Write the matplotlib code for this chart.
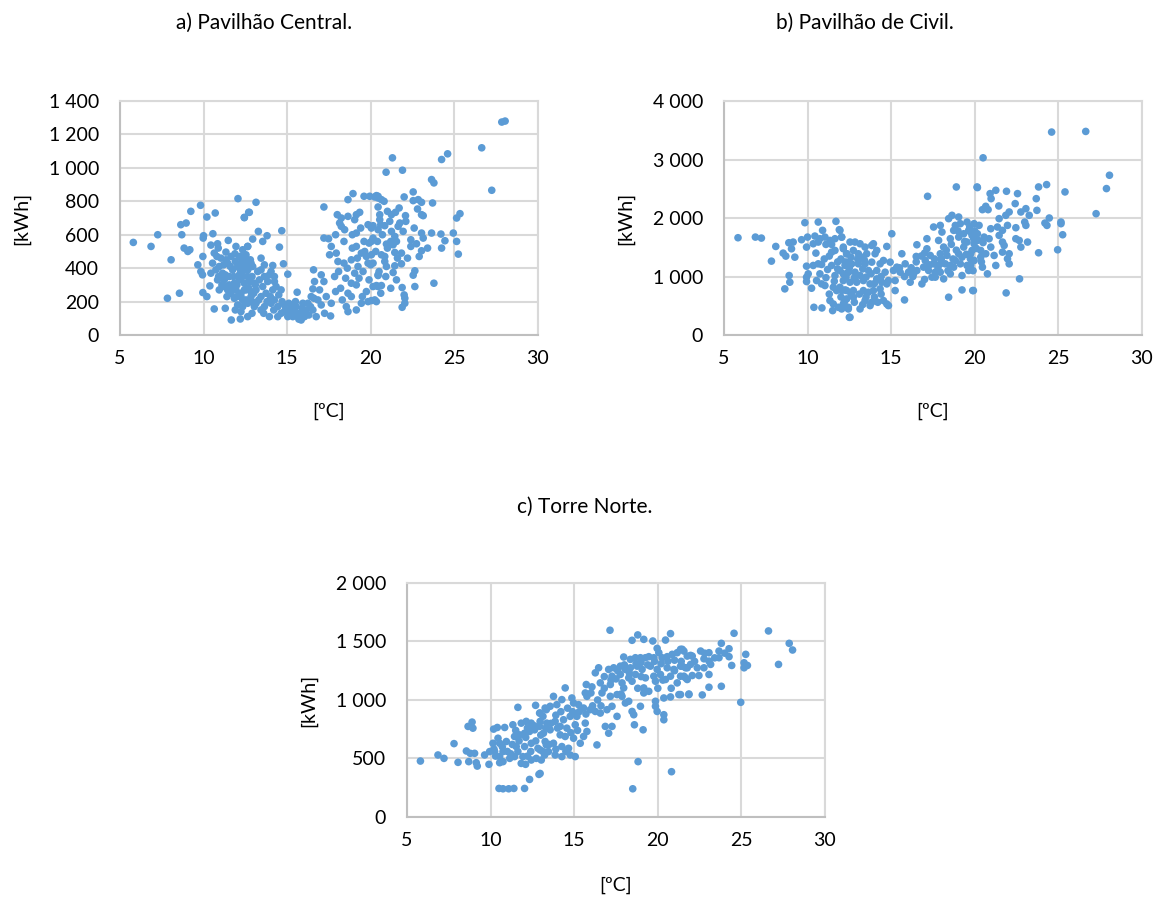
import numpy as np
import matplotlib
matplotlib.use("Agg")
import matplotlib.pyplot as plt
from matplotlib.ticker import FuncFormatter, MultipleLocator

# daily mean temperature [ºC] vs daily consumption [kWh]
central = [
    (5.8, 554), (6.86, 530), (7.26, 600), (7.84, 220), (8.56, 250), (8.06, 450), (8.7, 600), (8.64, 660),
    (8.96, 670), (9.24, 740), (9.82, 776), (8.84, 520), (9.18, 510), (9.06, 500), (10.2, 706), (10.7, 730),
    (12.06, 816), (12.44, 704), (12.7, 734), (10.0, 594), (9.98, 580), (10.56, 606), (10.44, 538), (10.84, 546),
    (10.88, 520), (11.48, 566), (9.96, 470), (9.66, 420), (9.84, 380), (9.94, 360), (10.38, 294), (9.96, 254),
    (10.2, 230), (10.64, 156), (11.66, 90), (12.24, 140), (12.2, 96),
    (10.64, 490), (10.8, 470), (11.04, 460), (11.34, 496), (11.64, 470), (11.88, 486), (12.14, 470), (12.44, 450),
    (12.64, 530), (10.54, 430), (10.74, 390), (10.94, 410), (11.44, 430), (11.74, 390), (12.04, 410), (12.34, 380),
    (12.64, 390), (10.84, 330), (11.24, 330), (11.54, 350), (11.84, 310), (12.14, 330), (12.44, 310), (12.74, 320),
    (10.94, 270), (11.44, 270), (11.64, 250), (11.94, 270), (12.24, 250), (12.54, 270), (11.84, 220), (12.34, 210),
    (12.64, 190), (12.04, 180), (11.24, 290), (11.54, 300), (10.44, 370), (11.14, 370), (12.24, 430), (12.84, 430),
    (11.34, 450), (11.94, 530), (12.34, 510), (12.64, 350), (12.14, 360),
    (11.2, 420), (11.6, 410), (11.9, 440), (12.2, 390), (12.5, 410), (10.9, 350), (11.3, 360), (11.8, 350),
    (12.9, 350), (13.1, 300), (11.1, 300), (11.7, 280), (12.0, 300), (12.7, 280), (13.0, 250), (11.4, 230),
    (12.0, 230), (12.9, 200), (13.3, 210), (13.8, 200), (14.0, 230), (14.5, 240), (14.2, 150), (14.7, 200),
    (15.0, 140), (15.3, 180), (15.6, 130), (16.0, 140), (16.4, 170), (13.6, 130), (12.9, 130), (11.9, 150),
    (11.3, 160),
    (13.14, 794), (12.74, 734), (12.44, 702), (13.28, 620), (13.8, 594), (13.54, 560), (14.68, 624), (14.54, 526),
    (12.94, 574), (12.64, 530), (12.54, 480), (12.8, 450), (13.44, 460), (13.64, 420), (14.14, 416), (14.04, 380),
    (14.78, 426), (15.04, 364), (14.24, 320), (13.84, 320), (14.14, 270), (13.44, 230), (12.84, 230), (13.14, 270),
    (15.6, 256), (15.84, 90), (14.24, 210), (14.44, 170), (14.84, 180), (15.24, 160), (15.44, 140), (15.04, 110),
    (14.64, 130), (13.94, 110), (13.44, 150), (13.04, 170), (12.64, 110), (12.34, 170),
    (12.24, 470), (12.44, 430), (12.64, 390), (12.94, 410), (13.24, 380), (12.34, 350), (12.74, 330), (13.04, 310),
    (13.34, 330), (12.44, 270), (12.84, 260), (12.54, 210), (13.14, 190), (12.24, 230), (13.54, 290), (13.64, 350),
    (13.44, 390), (13.94, 360), (14.24, 350), (14.34, 290), (14.64, 270), (13.74, 250), (14.04, 190), (13.64, 170),
    (14.44, 110), (14.84, 140), (15.34, 110), (15.54, 170), (15.94, 190), (16.14, 150), (16.04, 110), (15.74, 130),
    (15.2, 130), (15.5, 200), (15.9, 160), (16.3, 120), (16.6, 220), (14.9, 150), (15.1, 190), (15.7, 95),
    (16.58, 390), (17.2, 766), (17.2, 580), (17.48, 576), (17.64, 530), (17.54, 480), (17.94, 490), (18.04, 440),
    (17.04, 360), (16.64, 320), (16.54, 276), (16.94, 270), (17.2, 320), (16.44, 230), (16.84, 210), (17.04, 180),
    (17.34, 230), (17.64, 190), (17.24, 130), (17.6, 114), (18.64, 810), (18.94, 846), (19.6, 830), (19.94, 830),
    (20.34, 834), (20.44, 820), (18.14, 670), (18.24, 650), (18.44, 630), (18.24, 700), (18.64, 710), (19.14, 720),
    (19.34, 734), (19.04, 690), (19.14, 610), (19.84, 660), (20.04, 640), (20.14, 580), (19.14, 530), (19.44, 490),
    (19.64, 500), (19.74, 470), (19.84, 430), (19.54, 380), (19.24, 410), (18.84, 450), (19.04, 370), (18.6, 400),
    (18.4, 430), (18.08, 380), (17.84, 350), (18.84, 310), (19.14, 300), (19.74, 260), (20.14, 290), (20.44, 360),
    (20.44, 290), (18.64, 250), (18.84, 230), (18.54, 170), (18.64, 140), (19.14, 150), (19.44, 190), (19.84, 200),
    (20.24, 210), (16.54, 150), (16.74, 110), (16.24, 190),
    (18.4, 560), (18.9, 600), (19.4, 640), (19.9, 550), (20.3, 500), (20.7, 600), (21.0, 520), (19.6, 560),
    (18.9, 520), (19.2, 460), (20.0, 420), (20.5, 380), (18.5, 340), (19.3, 340), (19.9, 330), (20.9, 350),
    (18.2, 280), (19.5, 230), (20.6, 250), (21.2, 280), (17.9, 260), (18.3, 210), (21.6, 460), (22.2, 460),
    (22.9, 470), (23.4, 520), (22.1, 680), (22.6, 640), (21.0, 740), (21.7, 760), (21.2, 560), (20.6, 660),
    (17.9, 600), (18.0, 720),
    (27.84, 1274), (28.04, 1280), (26.64, 1120), (24.6, 1084), (24.24, 1050), (21.3, 1060), (20.92, 974), (21.9, 986),
    (23.64, 930), (23.78, 910), (27.24, 866), (22.54, 856), (22.0, 826), (20.24, 826), (20.44, 830), (20.64, 810),
    (20.8, 800), (22.54, 804), (22.84, 810), (23.04, 794), (23.7, 790), (20.44, 766), (22.8, 754), (23.04, 720),
    (23.14, 714), (22.08, 714), (21.48, 734), (21.24, 720), (20.54, 720), (20.54, 690), (25.34, 726), (25.14, 700),
    (20.14, 654), (20.84, 654), (21.14, 680), (20.44, 630), (21.74, 670), (21.64, 650), (21.24, 620), (21.44, 590),
    (21.94, 620), (21.54, 560), (21.34, 540), (23.04, 610), (23.14, 580), (23.64, 610), (24.2, 604), (24.94, 610),
    (22.4, 570), (22.74, 546), (22.4, 530), (23.04, 504), (24.44, 564), (25.14, 560), (24.24, 520), (25.24, 484),
    (20.04, 560), (20.4, 560), (20.94, 544), (20.04, 480), (20.64, 480), (20.84, 470), (21.44, 494), (21.84, 490),
    (20.14, 430), (20.84, 440), (20.94, 410), (21.44, 414), (21.84, 426), (21.34, 374), (22.64, 384), (22.54, 358),
    (21.54, 330), (20.44, 356), (20.34, 296), (20.64, 296), (22.64, 290), (23.78, 310), (21.88, 284), (22.0, 240),
    (22.04, 220), (22.04, 190), (21.88, 166), (20.04, 206), (20.34, 200),
]

civil = [
    (5.84, 1663), (6.88, 1674), (7.24, 1657), (8.1, 1514), (7.84, 1263), (8.54, 1400), (8.7, 1349), (8.88, 1577),
    (9.14, 1589), (9.04, 1474), (9.24, 1331), (8.9, 1017), (8.94, 903), (8.64, 789), (9.84, 1920), (10.64, 1931),
    (11.7, 1943), (11.9, 1800), (10.9, 1789), (9.64, 1629), (10.0, 1674), (10.44, 1691), (10.74, 1646), (11.04, 1674),
    (11.34, 1617), (11.64, 1646), (9.94, 1503), (10.34, 1560), (10.64, 1589), (11.1, 1549), (11.44, 1549), (12.04, 1674),
    (12.14, 1503), (11.44, 1417), (11.64, 1446), (12.34, 1389), (9.94, 1177), (10.34, 1189), (10.64, 1217), (10.84, 1206),
    (11.44, 1189), (12.24, 1189), (12.34, 1246), (9.94, 989), (10.04, 1046), (10.74, 1046), (11.64, 1017), (12.14, 1046),
    (12.44, 1074), (9.94, 914), (10.54, 931), (10.84, 874), (11.04, 846), (10.24, 800), (11.54, 817), (11.74, 760),
    (11.94, 817), (12.24, 771), (11.34, 589), (11.54, 531), (11.84, 474), (12.14, 531), (12.44, 446), (10.38, 474),
    (10.86, 463), (11.5, 417), (12.5, 303),
    (11.94, 1789), (12.04, 1674), (12.54, 1589), (12.84, 1589), (13.14, 1560), (13.44, 1503), (13.84, 1531), (13.94, 1560),
    (12.14, 1474), (12.34, 1389), (12.74, 1446), (13.04, 1389), (13.24, 1331), (13.54, 1389), (14.04, 1389), (14.14, 1446),
    (14.74, 1514), (12.24, 1246), (12.64, 1217), (13.04, 1217), (13.44, 1217), (13.84, 1246), (14.34, 1217), (14.54, 1274),
    (14.94, 1246), (11.94, 1103), (12.44, 1074), (12.84, 1074), (13.14, 1017), (13.64, 1103), (14.14, 1103), (14.64, 1074),
    (15.14, 1103), (15.34, 1160), (15.64, 1389), (12.14, 931), (12.54, 903), (12.94, 903), (13.34, 931), (13.74, 874),
    (14.14, 960), (14.44, 903), (14.84, 931), (12.04, 760), (12.34, 760), (12.74, 760), (13.34, 760), (13.64, 731),
    (13.94, 760), (14.34, 789), (14.74, 874), (12.34, 617), (12.74, 646), (13.44, 589), (13.84, 560), (14.54, 589),
    (14.74, 531), (14.84, 503), (12.04, 446), (12.44, 474), (13.14, 446), (13.74, 503), (12.54, 303), (15.04, 1731),
    (15.24, 931), (15.24, 760), (15.8, 600), (15.54, 1074), (15.84, 1217), (16.04, 1074), (16.14, 903), (16.34, 1046),
    (16.54, 1103), (16.84, 874), (16.54, 1543), (16.5, 1343), (17.18, 2371), (17.14, 1646), (17.14, 1474), (17.34, 1360),
    (17.04, 1274), (16.94, 1160), (17.24, 1103), (17.54, 1217), (17.64, 1074), (17.44, 989), (17.54, 1846), (17.94, 1874),
    (18.04, 1760), (17.84, 1617), (18.14, 1503), (17.94, 1389), (18.34, 1360), (17.94, 1217), (18.24, 1217), (18.54, 1189),
    (17.94, 1074), (17.64, 989), (18.14, 960), (18.44, 1989), (18.64, 2046), (19.04, 2017), (18.84, 1874), (19.14, 1903),
    (18.74, 1789), (19.04, 1674), (18.54, 1646), (19.54, 1931), (19.64, 1789), (19.34, 1731), (19.84, 1703), (19.54, 1589),
    (19.94, 1646), (19.34, 1503), (19.84, 1446), (19.04, 1389), (19.24, 1331), (19.74, 1303), (18.84, 1274), (19.14, 1217),
    (19.54, 1189), (19.94, 1274), (18.74, 1160), (19.64, 1103), (18.54, 1046), (19.24, 1017), (18.9, 2531), (20.14, 2531),
    (18.44, 646), (19.24, 771), (19.88, 760),
    (10.5, 1400), (11.0, 1300), (11.3, 1350), (11.8, 1250), (12.0, 1300), (12.6, 1330), (13.0, 1300), (13.4, 1280),
    (11.2, 1120), (11.8, 1130), (12.5, 1150), (13.3, 1130), (13.8, 1050), (14.4, 1000), (11.1, 980), (11.6, 920),
    (12.3, 990), (12.8, 980), (13.5, 990), (14.0, 880), (11.3, 700), (12.0, 650), (12.6, 700), (13.1, 700),
    (13.5, 650), (14.0, 650), (14.4, 700), (12.8, 560), (13.3, 520), (12.2, 560), (14.2, 560), (15.5, 1150),
    (15.8, 1000), (16.2, 1150), (16.5, 1250), (16.8, 1350), (17.0, 1400), (17.6, 1300), (18.0, 1300), (18.3, 1450),
    (18.6, 1550), (18.9, 1450), (19.4, 1600), (19.0, 1780), (19.7, 1850), (20.0, 1780), (20.2, 1620), (20.5, 1580),
    (20.1, 1480), (17.3, 1200), (18.7, 1300), (19.5, 1380), (20.4, 1250), (19.9, 1100), (18.4, 1100), (17.8, 1150),
    (16.3, 1000), (17.0, 950),
    (24.6, 3469), (26.64, 3480), (20.5, 3029), (28.06, 2731), (27.88, 2503), (27.26, 2074), (20.16, 2520), (20.92, 2417),
    (21.26, 2474), (20.98, 2331), (21.9, 2457), (22.56, 2417), (23.82, 2531), (24.3, 2571), (25.4, 2446), (23.68, 2331),
    (22.42, 2246), (21.44, 2206), (20.66, 2200), (20.8, 2143), (20.46, 2143), (22.06, 2103), (21.86, 2046), (21.46, 1989),
    (22.76, 2103), (23.06, 2160), (23.26, 2046), (23.72, 2131), (22.99, 1931), (24.46, 2000), (24.2, 1914), (24.32, 1874),
    (25.16, 1931), (25.16, 1903), (25.26, 1714), (19.96, 1903), (20.26, 1874), (19.76, 1760), (20.16, 1731), (20.96, 1817),
    (21.36, 1846), (21.66, 1789), (21.96, 1874), (22.46, 1834), (23.06, 1874), (20.56, 1674), (20.86, 1646), (21.46, 1703),
    (21.66, 1589), (22.46, 1646), (22.66, 1617), (23.16, 1589), (19.96, 1560), (20.36, 1446), (20.96, 1503), (21.76, 1531),
    (22.76, 1503), (19.76, 1389), (19.96, 1274), (20.36, 1331), (20.66, 1389), (21.16, 1360), (21.66, 1417), (22.06, 1389),
    (21.96, 1303), (22.06, 1217), (19.76, 1189), (20.46, 1160), (21.26, 1189), (20.76, 1046), (23.82, 1406), (24.96, 1457),
    (22.68, 960), (19.92, 760), (21.88, 720),
]

torre = [
    (5.8, 478), (6.85, 530), (7.21, 501), (7.81, 627), (8.65, 774), (8.89, 811), (8.94, 759), (8.55, 564),
    (8.78, 544), (9.04, 544), (8.05, 467), (8.69, 473), (9.14, 464), (9.2, 435), (9.64, 530), (9.9, 450),
    (9.94, 559), (10.18, 751), (10.4, 765), (10.84, 765), (10.14, 630), (10.44, 673), (10.54, 630), (10.94, 645),
    (10.24, 559), (10.74, 559), (10.54, 516), (10.74, 473), (11.14, 501), (11.43, 516), (11.63, 559), (10.54, 464),
    (11.63, 937), (12.69, 954), (11.33, 788), (11.83, 802), (12.13, 817), (12.43, 802), (11.43, 688), (11.73, 702),
    (12.03, 716), (12.33, 731), (12.63, 745), (12.93, 774), (13.13, 860), (13.33, 917), (12.93, 888), (11.53, 602),
    (12.03, 602), (12.43, 630), (12.83, 587), (13.13, 559), (13.33, 616), (11.93, 516), (12.43, 487), (12.73, 501),
    (13.03, 487), (13.23, 530), (11.83, 458), (12.09, 450), (12.89, 364), (12.33, 321), (10.5, 244), (10.74, 241),
    (11.08, 241), (11.39, 244), (12.03, 244),
    (17.14, 1596), (18.46, 1510), (18.8, 1556), (19.16, 1518), (19.7, 1504), (20.46, 1512), (20.76, 1567), (19.96, 1441),
    (20.06, 1404), (17.96, 1367), (18.36, 1347), (18.66, 1361), (18.96, 1361), (19.26, 1361), (19.46, 1370), (19.76, 1361),
    (20.26, 1361), (20.56, 1370), (20.86, 1390), (21.16, 1404), (21.36, 1433), (21.56, 1418), (21.76, 1375), (16.46, 1275),
    (17.06, 1261), (17.36, 1275), (17.76, 1289), (18.06, 1261), (18.36, 1275), (18.76, 1289), (19.06, 1261), (19.56, 1289),
    (19.96, 1261), (20.56, 1275), (20.96, 1261), (21.36, 1289), (21.76, 1275), (16.26, 1232), (17.26, 1203), (17.76, 1218),
    (18.26, 1189), (18.66, 1218), (19.26, 1189), (19.76, 1203), (20.16, 1218), (20.76, 1203), (21.56, 1203), (16.56, 1146),
    (17.16, 1132), (17.86, 1146), (18.46, 1160), (19.16, 1103), (19.86, 1160), (20.46, 1175), (21.16, 1146), (21.76, 1175),
    (15.72, 1132), (16.06, 1112), (15.66, 1060), (15.76, 1031), (16.66, 1060), (17.16, 1031), (17.56, 1046), (17.86, 1031),
    (17.96, 1103), (18.26, 989), (19.16, 1060), (19.46, 1074), (19.86, 989), (20.36, 1017), (20.76, 1026), (21.26, 1046),
    (21.86, 1046), (18.06, 974), (18.46, 902), (18.56, 874), (18.96, 946), (19.86, 946), (19.96, 902), (20.36, 874),
    (20.36, 831), (18.6, 788), (19.12, 745), (18.82, 473), (20.82, 387), (18.5, 241),
    (12.96, 888), (13.26, 931), (13.56, 946), (13.96, 960), (14.46, 1103), (14.26, 1003), (13.76, 1031), (14.86, 1017),
    (14.96, 974), (15.26, 960), (15.56, 931), (15.96, 917), (16.26, 902), (16.56, 888), (16.96, 917), (17.26, 946),
    (17.56, 860), (16.86, 774), (17.06, 716), (17.26, 774), (12.96, 817), (13.36, 802), (13.86, 817), (14.36, 831),
    (14.76, 860), (15.16, 860), (14.16, 774), (14.56, 759), (15.06, 788), (15.66, 802), (15.76, 731), (15.56, 688),
    (15.36, 630), (13.16, 716), (13.56, 745), (14.16, 702), (14.46, 688), (14.96, 673), (13.26, 645), (13.76, 630),
    (14.26, 602), (14.66, 587), (12.96, 573), (13.46, 559), (13.86, 530), (14.26, 516), (14.76, 530), (15.06, 516),
    (16.36, 616), (12.96, 372),
    (10.3, 520), (10.7, 600), (11.0, 560), (11.3, 620), (11.7, 650), (12.1, 680), (12.4, 560), (12.7, 650),
    (13.0, 700), (13.3, 760), (13.6, 800), (13.9, 870), (14.2, 900), (14.6, 930), (14.9, 900), (15.3, 900),
    (15.7, 880), (16.1, 950), (16.4, 1000), (16.8, 1100), (17.2, 1170), (17.6, 1250), (18.0, 1300), (18.3, 1230),
    (18.7, 1310), (19.0, 1320), (19.4, 1300), (19.8, 1330), (20.2, 1310), (20.6, 1330), (21.0, 1340), (21.4, 1330),
    (20.3, 1170), (19.0, 1200), (17.5, 1180), (16.8, 1200), (16.0, 1060), (15.2, 740), (14.8, 720), (14.0, 760),
    (13.5, 620), (12.2, 520), (11.2, 540), (10.2, 580), (13.9, 580), (14.5, 560), (12.6, 780), (12.2, 760),
    (11.5, 740), (21.0, 1250), (22.2, 1330), (22.8, 1400), (23.4, 1360), (24.0, 1400), (16.6, 950), (17.8, 1050),
    (18.8, 1100), (20.0, 1100), (20.8, 1100),
    (24.56, 1570), (26.62, 1590), (27.86, 1484), (28.06, 1427), (27.22, 1304), (24.96, 980), (23.8, 1484), (24.26, 1438),
    (23.66, 1418), (23.06, 1404), (22.56, 1418), (21.96, 1381), (21.46, 1433), (25.26, 1390), (25.16, 1318), (25.36, 1295),
    (25.16, 1275), (24.42, 1295), (24.26, 1370), (23.66, 1361), (23.06, 1332), (22.76, 1352), (22.06, 1375), (23.16, 1304),
    (22.76, 1275), (22.36, 1275), (21.96, 1304), (21.66, 1275), (21.46, 1289), (23.06, 1218), (22.46, 1209), (22.06, 1209),
    (21.66, 1189), (21.36, 1203), (23.8, 1117), (23.06, 1109), (22.66, 1043), (21.86, 1051), (21.36, 1046),
]

panels = [
    ("a) Pavilhão Central.", central, 1400, 200, [0.1034, 0.6265, 0.3603, 0.2609], (0.2276, 0.975), -0.29),
    ("b) Pavilhão de Civil.", civil, 4000, 1000, [0.6241, 0.6265, 0.3603, 0.2609], (0.7457, 0.975), -0.29),
    ("c) Torre Norte.", torre, 2000, 500, [0.3509, 0.0892, 0.3603, 0.2609], (0.504, 0.435), -0.255),
]

plt.rcParams["font.family"] = ["Lato", "DejaVu Sans"]
blue = "#5B9BD5"
grid = "#D9D9D9"
thousands = FuncFormatter(lambda v, p: f"{int(v):,}".replace(",", " "))

fig = plt.figure(figsize=(11.6, 8.97), dpi=100)
for title, pts, ymax, ystep, rect, tpos, xlab_y in panels:
    ax = fig.add_axes(rect)
    arr = np.array(pts)
    ax.scatter(arr[:, 0], arr[:, 1], s=30, color=blue, edgecolors="none", zorder=3)
    ax.set_xlim(5, 30)
    ax.set_ylim(0, ymax)
    ax.xaxis.set_major_locator(MultipleLocator(5))
    ax.yaxis.set_major_locator(MultipleLocator(ystep))
    ax.yaxis.set_major_formatter(thousands)
    ax.grid(True, color=grid, linewidth=1.5, zorder=0)
    for s in ax.spines.values():
        s.set_color(grid)
        s.set_linewidth(1.5)
    ax.spines["bottom"].set_color("#BFBFBF")
    ax.spines["left"].set_color("#BFBFBF")
    ax.tick_params(axis="x", length=0, labelsize=14, colors="black", pad=11)
    ax.tick_params(axis="y", length=0, labelsize=14, colors="black", pad=15)
    ax.set_xlabel("[ºC]", fontsize=14)
    ax.set_ylabel("[kWh]", fontsize=14)
    ax.xaxis.set_label_coords(0.5, xlab_y)
    ax.yaxis.set_label_coords(-0.215, 0.5)
    fig.text(tpos[0], tpos[1], title, ha="center", va="center", fontsize=15)

fig.savefig("out.png", dpi=100)
